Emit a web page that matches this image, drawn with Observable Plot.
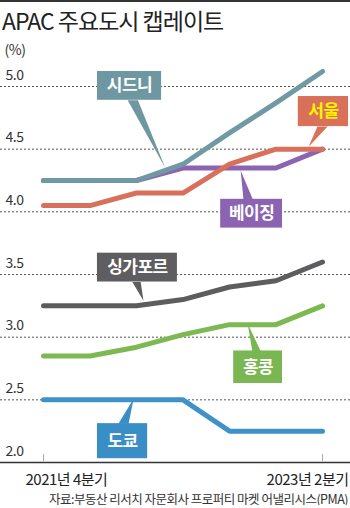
<!DOCTYPE html>
<html><head><meta charset="utf-8">
<script src="https://cdn.jsdelivr.net/npm/d3@7"></script>
<script src="https://cdn.jsdelivr.net/npm/@observablehq/plot@0.6"></script>
<style>
body{margin:0;background:#fff;font-family:'Noto Sans CJK KR','Noto Sans',sans-serif;width:350px;overflow:hidden}
#title{height:36px;border-top:2px solid #333;font-size:23px;line-height:36px;padding-left:2px;color:#222;letter-spacing:-1px;white-space:nowrap}
#src{font-size:12.5px;text-align:right;padding-right:2px;color:#333;letter-spacing:-0.5px;line-height:13px;margin-top:0px;white-space:nowrap}
</style></head><body>
<div id="title">APAC 주요도시 캡레이트</div>
<div id="chart"></div>
<div id="src">자료:부동산 리서치 자문회사 프로퍼티 마켓 어낼리시스(PMA)</div>
<script>
// ---- data ----
const quarters = ["2021Q4","2022Q1","2022Q2","2022Q3","2022Q4","2023Q1","2023Q2"];
const beijing   = [4.25,4.25,4.25,4.35,4.35,4.35,4.5];
const seoul     = [4.05,4.05,4.15,4.15,4.38,4.5,4.5];
const sydney    = [4.25,4.25,4.25,4.38,4.63,4.87,5.12];
const singapore = [3.25,3.25,3.25,3.3,3.4,3.45,3.6];
const hongkong  = [2.85,2.85,2.92,3.02,3.1,3.1,3.25];
const tokyo     = [2.5,2.5,2.5,2.5,2.25,2.25,2.25];
const cityNames = ["베이징","서울","시드니","싱가포르","홍콩","도쿄"];
const yTicks = [2.0,2.5,3.0,3.5,4.0,4.5,5.0];
const xTickLabels = ["2021년 4분기","2023년 2분기"];
const unitLabel = "(%)";

// ---- styles / layout (annotation boxes in data units: quarter index, rate) ----
const seriesValues = [beijing, seoul, sydney, singapore, hongkong, tokyo];
const lineColors = ["#8b64b2","#d9705b","#6f99a3","#5d5d5f","#7cb952","#3e92c8"];
const boxColors  = ["#8c63b1","#d9705a","#6e97a1","#5e5e60","#7ab652","#3a8ec6"];
const textColors = ["#fff","#fff200","#fff","#fff","#fff","#fff"];
const boxes = [
  {x1:3.81,x2:5.14,y1:3.87,y2:4.10, p:[[4.30,4.10],[4.50,4.10],[4.24,4.33]]},
  {x1:5.48,x2:6.56,y1:4.68,y2:4.92, p:[[5.89,4.68],[6.11,4.68],[5.70,4.52]]},
  {x1:1.16,x2:2.54,y1:4.89,y2:5.12, p:[[1.81,4.89],[2.03,4.89],[2.62,4.35]]},
  {x1:1.16,x2:2.88,y1:3.44,y2:3.67, p:[[1.91,3.44],[2.09,3.44],[2.15,3.29]]},
  {x1:4.09,x2:5.14,y1:2.63,y2:2.89, p:[[4.49,2.89],[4.67,2.89],[4.39,3.11]]},
  {x1:1.16,x2:2.24,y1:2.03,y2:2.31, p:[[1.61,2.31],[1.83,2.31],[1.94,2.51]]}
];

const table = cityNames.flatMap((c,ci)=>seriesValues[ci].map((v,i)=>({city:c, q:i, quarter:quarters[i], v})));
const labelData = cityNames.map((c,i)=>({city:c, ...boxes[i], cx:(boxes[i].x1+boxes[i].x2)/2, cy:(boxes[i].y1+boxes[i].y2)/2}));
const pointerData = labelData.flatMap(d=>d.p.map(([x,y])=>({city:d.city,x,y})));

const W=350, H=454, mT=48, mB=30, mL=43, mR=28;
const font = "'Noto Sans CJK KR','Noto Sans',sans-serif";

const chart = Plot.plot({
  width:W, height:H, marginTop:mT, marginBottom:mB, marginLeft:mL, marginRight:mR,
  x:{domain:[0,quarters.length-1], axis:null},
  y:{domain:[2,5], axis:null},
  color:{domain:cityNames, range:lineColors},
  style:{fontFamily:font, background:"#fff", overflow:"visible", letterSpacing:"-0.5px"},
  marks:[
    Plot.ruleY(yTicks.filter(v=>v>2), {stroke:"#555", strokeDasharray:"2,2", strokeWidth:1, insetLeft:-mL, insetRight:-mR}),
    Plot.ruleY([2], {stroke:"#333", strokeWidth:1.5, insetLeft:-mL, insetRight:-mR}),
    Plot.ruleX([0, quarters.length-1], {stroke:"#aaa", strokeWidth:1, insetTop:H-mT-mB-8, insetBottom:1}),
    Plot.text(yTicks, {y:d=>d, frameAnchor:"left", dx:-38, dy:-7, lineAnchor:"bottom", textAnchor:"start", text:d=>d.toFixed(1), fontSize:14, fill:"#333"}),
    Plot.text([unitLabel], {frameAnchor:"top-left", dx:-39, dy:-32, lineAnchor:"bottom", textAnchor:"start", fontSize:14, fill:"#333"}),
    Plot.text([xTickLabels[0]], {x:0, frameAnchor:"bottom", dx:-18, dy:22.5, lineAnchor:"bottom", textAnchor:"start", fontSize:15, fill:"#222"}),
    Plot.text([xTickLabels[1]], {x:quarters.length-1, frameAnchor:"bottom", dx:26, dy:22.5, lineAnchor:"bottom", textAnchor:"end", fontSize:15, fill:"#222"}),
    Plot.line(table, {x:"q", y:"v", z:"city", stroke:"city", strokeWidth:5, strokeLinecap:"round", strokeLinejoin:"round"}),
    Plot.line(pointerData, {x:"x", y:"y", z:"city", fill:d=>boxColors[cityNames.indexOf(d.city)], stroke:null}),
    Plot.rect(labelData, {x1:"x1", x2:"x2", y1:"y1", y2:"y2", fill:d=>boxColors[cityNames.indexOf(d.city)]}),
    Plot.text(labelData, {x:"cx", y:"cy", text:"city", fill:d=>textColors[cityNames.indexOf(d.city)], fontSize:17, fontWeight:"bold", letterSpacing:"0px"})
  ]
});
document.getElementById("chart").appendChild(chart);
</script>
</body></html>
